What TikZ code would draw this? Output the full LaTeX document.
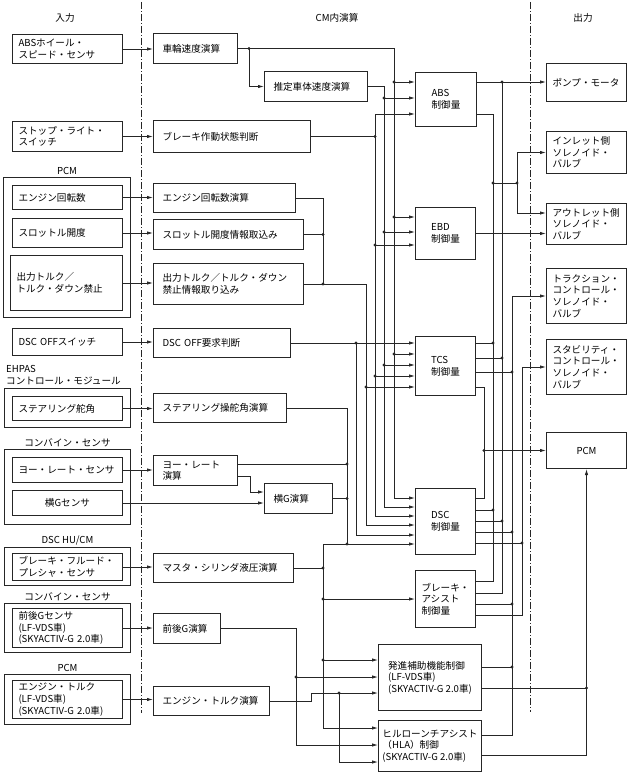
\documentclass[tikz,border=0pt]{standalone}
\usepackage{fontspec}
\setmainfont{Noto Sans CJK JP}
\usetikzlibrary{arrows.meta,calc,positioning}
\newcommand{\jpfont}{\fontsize{9.6}{11.6}\selectfont}
\newcommand{\jdot}[1]{\fill[black!85] (#1) circle (1.7pt);}
\exhyphenpenalty=10000
\hyphenpenalty=10000

\tikzset{
  box/.style={draw=black!85, line width=1pt, anchor=north west, align=left, inner xsep=6pt, inner ysep=1pt},
  mbox/.style={box, inner xsep=9pt},
  cbox/.style={draw=black!85, line width=1pt, anchor=north west, align=left, inner xsep=2pt, inner ysep=1pt},
  grp/.style={draw=black!85, line width=1pt, anchor=north west, inner sep=0pt},
  lbl/.style={inner sep=1pt},
  wire/.style={draw=black!85, line width=0.8pt, line cap=rect},
  arr/.style={wire, -{Latex[length=6pt,width=3.4pt]}},
  sepline/.style={line width=0.6pt, black!85, dash pattern=on 7pt off 2pt on 1pt off 2pt},
}

\begin{document}
\begin{tikzpicture}[x=1pt, y=-1pt, font=\jpfont]
\useasboundingbox (0,0) rectangle (632,773);

% headings and separators
\node[lbl] (h_in) at (65,18) {入力};
\node[lbl] (h_cm) at (337,18) {CM内演算};
\node[lbl] (h_out) at (583,18) {出力};
\draw[sepline] (141,2) -- (141,713);
\draw[sepline] (530,2) -- (530,712);

% input groups
\node[grp, minimum width=127pt, minimum height=140pt] (g_pcm) at (3,177) {};
\node[lbl, above=1pt of g_pcm] (l_pcm) {PCM};
\node[grp, minimum width=126pt, minimum height=39pt] (g_ehpas) at (4,388) {};
\node[lbl, align=left, anchor=south west] (l_ehpas) at (5,386) {EHPAS\\コントロール・モジュール};
\node[grp, minimum width=126pt, minimum height=75pt] (g_comb) at (4,449) {};
\node[lbl, above=1pt of g_comb] (l_comb) {コンバイン・センサ};
\node[grp, minimum width=126pt, minimum height=38pt] (g_hu) at (4,547) {};
\node[lbl, above=1pt of g_hu] (l_hu) {DSC HU/CM};
\node[grp, minimum width=126pt, minimum height=49pt] (g_comb2) at (4,603) {};
\node[lbl, above=1pt of g_comb2] (l_comb2) {コンバイン・センサ};
\node[grp, minimum width=126pt, minimum height=50pt] (g_pcm2) at (4,674) {};
\node[lbl, above=1pt of g_pcm2] (l_pcm2) {PCM};

% inputs
\node[box, text width=98pt, minimum height=29pt] (in_abs) at (12,34) {ABSホイール・\\スピード・センサ};
\node[box, text width=98pt, minimum height=30pt] (in_stop) at (12,121) {ストップ・ライト・\\スイッチ};
\node[box, text width=98pt, minimum height=24pt] (in_rpm) at (12,185) {エンジン回転数};
\node[box, text width=98pt, minimum height=29pt] (in_thr) at (12,218) {スロットル開度};
\node[box, text width=100pt, minimum height=55pt] (in_trq) at (10,255) {出力トルク／\\トルク・ダウン禁止};
\node[box, text width=98pt, minimum height=27pt] (in_off) at (12,328) {DSC OFFスイッチ};
\node[box, text width=98pt, minimum height=24pt] (in_steer) at (12,396) {ステアリング舵角};
\node[box, text width=98pt, minimum height=25pt] (in_yaw) at (12,457) {ヨー・レート・センサ};
\node[box, text width=98pt, minimum height=25pt, align=center] (in_latg) at (12,490) {横Gセンサ};
\node[box, text width=98pt, minimum height=27pt] (in_bfp) at (12,553) {ブレーキ・フルード・\\プレシャ・センサ};
\node[box, text width=98pt, minimum height=39pt] (in_longg) at (12,608) {前後Gセンサ\\(LF-VDS車)\\(SKYACTIV-G~2.0車)};
\node[box, text width=98pt, minimum height=38pt] (in_etq) at (12,680) {エンジン・トルク\\(LF-VDS車)\\(SKYACTIV-G~2.0車)};

% calculations in CM
\node[mbox, text width=66pt, minimum height=30pt] (c_wheel) at (153,33) {車輪速度演算};
\node[mbox, text width=85pt, minimum height=30pt] (c_body) at (264,71) {推定車体速度演算};
\node[mbox, text width=139pt, minimum height=32pt] (c_brk) at (153,120) {ブレーキ作動状態判断};
\node[mbox, text width=124pt, minimum height=29pt] (c_rpm) at (153,183) {エンジン回転数演算};
\node[mbox, text width=132pt, minimum height=30pt] (c_thr) at (153,219) {スロットル開度情報取込み};
\node[mbox, text width=132pt, minimum height=41pt] (c_trq) at (153,263) {出力トルク／トルク・ダウン\\禁止情報取り込み};
\node[mbox, text width=119pt, minimum height=29pt] (c_off) at (153,328) {DSC OFF要求判断};
\node[mbox, text width=115pt, minimum height=29pt] (c_steer) at (153,393) {ステアリング操舵角演算};
\node[mbox, text width=66pt, minimum height=30pt] (c_yaw) at (153,455) {ヨー・レート\\演算};
\node[mbox, text width=50pt, minimum height=30pt] (c_latg) at (264,483) {横G演算};
\node[mbox, text width=122pt, minimum height=29pt] (c_mc) at (153,553) {マスタ・シリンダ液圧演算};
\node[mbox, text width=49pt, minimum height=30pt] (c_longg) at (153,613) {前後G演算};
\node[mbox, text width=98pt, minimum height=29pt] (c_etq) at (153,686) {エンジン・トルク演算};

% control amounts
\node[cbox, minimum width=61pt, minimum height=54pt] (k_abs) at (415,72) {ABS\\制御量};
\node[cbox, minimum width=60pt, minimum height=52pt] (k_ebd) at (415,207) {EBD\\制御量};
\node[cbox, minimum width=60pt, minimum height=59pt] (k_tcs) at (415,336) {TCS\\制御量};
\node[cbox, minimum width=60pt, minimum height=66pt] (k_dsc) at (415,488) {DSC\\制御量};
\node[cbox, minimum width=60pt, minimum height=57pt] (k_ba) at (415,570) {ブレーキ・\\アシスト\\制御量};
\node[cbox, minimum width=103pt, minimum height=66pt] (k_start) at (378,644) {発進補助機能制御\\(LF-VDS車)\\(SKYACTIV-G~2.0車)};
\node[cbox, minimum width=103pt, minimum height=51pt] (k_hla) at (378,720) {ヒルローンチアシスト\\（HLA）制御\\(SKYACTIV-G~2.0車)};

% outputs
\node[box, text width=68pt, minimum height=38pt] (o_pump) at (546,63) {ポンプ・モータ};
\node[box, text width=68pt, minimum height=42pt] (o_inlet) at (546,131) {インレット側\\ソレノイド・\\バルブ};
\node[box, text width=68pt, minimum height=41pt] (o_outlet) at (546,203) {アウトレット側\\ソレノイド・\\バルブ};
\node[box, text width=68pt, minimum height=55pt] (o_tcsv) at (546,268) {トラクション・\\コントロール・\\ソレノイド・\\バルブ};
\node[box, text width=68pt, minimum height=55pt] (o_stab) at (546,339) {スタビリティ・\\コントロール・\\ソレノイド・\\バルブ};
\node[box, text width=68pt, minimum height=36pt, align=center] (o_pcm) at (546,432) {PCM};

% entry and exit points on the control boxes
\foreach \i/\d in {1/10,2/26,3/42} \coordinate (abs\i) at ($(k_abs.north west)+(0,\d)$);
\foreach \i/\d in {1/10,2/25,3/38} \coordinate (ebd\i) at ($(k_ebd.north west)+(0,\d)$);
\foreach \i/\d in {1/7,2/18,3/29,4/40,5/51} \coordinate (tcs\i) at ($(k_tcs.north west)+(0,\d)$);
\foreach \i/\d in {1/10,2/19,3/28,4/37,5/47,6/56} \coordinate (dsc\i) at ($(k_dsc.north west)+(0,\d)$);
\foreach \i/\d in {1/16,2/33,3/49} \coordinate (st\i) at ($(k_start.north west)+(0,\d)$);
\foreach \i/\d in {1/8,2/25,3/42} \coordinate (hla\i) at ($(k_hla.north west)+(0,\d)$);
\foreach \i/\d in {1/10,2/42} \coordinate (abso\i) at ($(k_abs.north east)+(0,\d)$);
\foreach \i/\d in {1/7,2/22,3/36,4/51} \coordinate (tcso\i) at ($(k_tcs.north east)+(0,\d)$);
\foreach \i/\d in {1/10,2/22,3/33,4/44,5/55} \coordinate (dsco\i) at ($(k_dsc.north east)+(0,\d)$);
\foreach \i/\d in {1/11,2/23,3/34,4/45} \coordinate (bao\i) at ($(k_ba.north east)+(0,\d)$);
\foreach \i/\d in {1/23,2/44} \coordinate (sto\i) at ($(k_start.north east)+(0,\d)$);
\foreach \i/\d in {1/15,2/35} \coordinate (hlao\i) at ($(k_hla.north east)+(0,\d)$);
\coordinate (yaw1) at ($(c_yaw.north east)+(0,9)$);
\coordinate (yaw2) at ($(c_yaw.north east)+(0,21)$);
\coordinate (latg1) at ($(c_latg.north west)+(0,9)$);
\coordinate (out1) at ($(o_outlet.north west)+(0,10)$);

% bus lines
\coordinate (bw) at (394,0);
\coordinate (bb) at (384,0);
\coordinate (bs) at (375,0);
\coordinate (be) at (366,0);
\coordinate (bd) at (356,0);
\coordinate (bg) at (347,0);
\coordinate (bq) at (323,0);
\coordinate (bm) at (323,0);
\coordinate (bt) at (339,0);
\coordinate (bl) at (296,0);
\coordinate (vc) at (484,0);
\coordinate (vs) at (493,0);
\coordinate (vp) at (502,0);
\coordinate (vt) at (512,0);
\coordinate (vy) at (522,0);
\coordinate (vio) at (517,183);

% inputs to calculations
\foreach \a/\b in {in_abs/c_wheel,in_stop/c_brk,in_rpm/c_rpm,in_thr/c_thr,in_trq/c_trq,in_off/c_off,in_steer/c_steer,in_yaw/c_yaw,in_bfp/c_mc,in_longg/c_longg,in_etq/c_etq}
  \draw[arr] (\a.east) -- (\a.east -| \b.west);
\draw[arr] (in_latg.east) -- (in_latg.east -| c_latg.west);

% wheel speed and body speed
\draw[arr] (c_wheel.east) -| (bw |- dsc1) -- (dsc1);
\foreach \t in {abs1,ebd1,tcs2} {\draw[arr] (bw |- \t) -- (\t); \jdot{bw |- \t}}
\coordinate (jw) at ($(c_wheel.east)+(11,0)$);
\draw[arr] (jw) |- (c_body.west);
\jdot{jw}
\draw[arr] (c_body.east) -| (bb |- dsc2) -- (dsc2);
\foreach \t in {abs2,ebd2,tcs3} {\draw[arr] (bb |- \t) -- (\t); \jdot{bb |- \t}}

% brake operation
\draw[wire] (c_brk.east) -- (bs |- c_brk.east);
\draw[arr] (bs |- dsc3) -- (bs |- abs3) -- (abs3);
\draw[arr] (bs |- dsc3) -- (dsc3);
\foreach \t in {ebd3,tcs4} {\draw[arr] (bs |- \t) -- (\t); \jdot{bs |- \t}}
\jdot{bs |- c_brk.east}

% engine information
\draw[wire] (c_rpm.east) -| (bq |- c_trq.east);
\draw[wire] (c_thr.east) -- (bq |- c_thr.east);
\draw[arr] (c_trq.east) -| (be |- dsc4) -- (dsc4);
\draw[arr] (be |- tcs5) -- (tcs5);
\jdot{bq |- c_thr.east} \jdot{bq |- c_trq.east} \jdot{be |- tcs5}

% DSC OFF
\draw[arr] (c_off.east) -- (c_off.east -| k_tcs.west);
\draw[arr] (bd |- c_off.east) -- (bd |- dsc5) -- (dsc5);
\jdot{bd |- c_off.east}

% steering, yaw rate, lateral G
\draw[arr] (c_steer.east) -| (bg |- dsc6) -- (dsc6);
\draw[wire] (yaw1) -- (bg |- yaw1);
\draw[arr] (yaw2) -- ++(12,0) |- (latg1);
\draw[wire] (c_latg.east) -- (bg |- c_latg.east);
\jdot{bg |- yaw1} \jdot{bg |- c_latg.east} \jdot{bg |- dsc6}

% master cylinder pressure
\draw[wire] (c_mc.east) -- (bm |- c_mc.east);
\draw[arr] (bg |- dsc6) -| (bm |- hla1) -- (hla1);
\draw[arr] (bm |- k_ba.west) -- (k_ba.west);
\draw[arr] (bm |- st1) -- (st1);
\jdot{bm |- c_mc.east} \jdot{bm |- k_ba.west} \jdot{bm |- st1}

% longitudinal G and engine torque
\draw[arr] (c_longg.east) -| (bl |- hla2) -- (hla2);
\draw[arr] (bl |- st2) -- (st2);
\jdot{bl |- st2}
\draw[arr] (c_etq.east) -- ++(41,0) |- (st3);
\draw[arr] (bt |- st3) |- (hla3);
\jdot{bt |- st3}

% outputs
\draw[arr] (abso1) -- (abso1 -| o_pump.west);
\draw[wire] (bao2) -| (vp |- abso1);
\foreach \t in {tcso2,dsco3} {\draw[wire] (\t) -- (vp |- \t); \jdot{vp |- \t}}
\jdot{vp |- abso1}

\draw[wire] (abso2) -| (vs |- bao1) -- (bao1);
\foreach \t in {tcso1,dsco2} {\draw[wire] (\t) -- (vs |- \t); \jdot{vs |- \t}}
\draw[wire] (vs |- vio) -- (vio);
\draw[arr] (vio) |- (o_inlet.west);
\draw[arr] (vio) |- (out1);
\jdot{vs |- vio} \jdot{vio}
\draw[arr] (k_ebd.east) -- (k_ebd.east -| o_outlet.west);

\draw[arr] (hlao1) -| (vt |- o_tcsv.west) -- (o_tcsv.west);
\foreach \t in {tcso3,dsco4,bao3,sto1} {\draw[wire] (\t) -- (vt |- \t); \jdot{vt |- \t}}

\draw[arr] (bao4) -| (vy |- o_stab.west) -- (o_stab.west);
\draw[wire] (dsco5) -- (vy |- dsco5);
\jdot{vy |- dsco5}

\draw[wire] (tcso4) -| (vc |- dsco1) -- (dsco1);
\draw[arr] (vc |- o_pcm.west) -- (o_pcm.west);
\jdot{vc |- o_pcm.west}
\draw[arr] (hlao2) -| (o_pcm.south);
\draw[wire] (sto2) -- (o_pcm.south |- sto2);
\jdot{o_pcm.south |- sto2}
\end{tikzpicture}
\end{document}
